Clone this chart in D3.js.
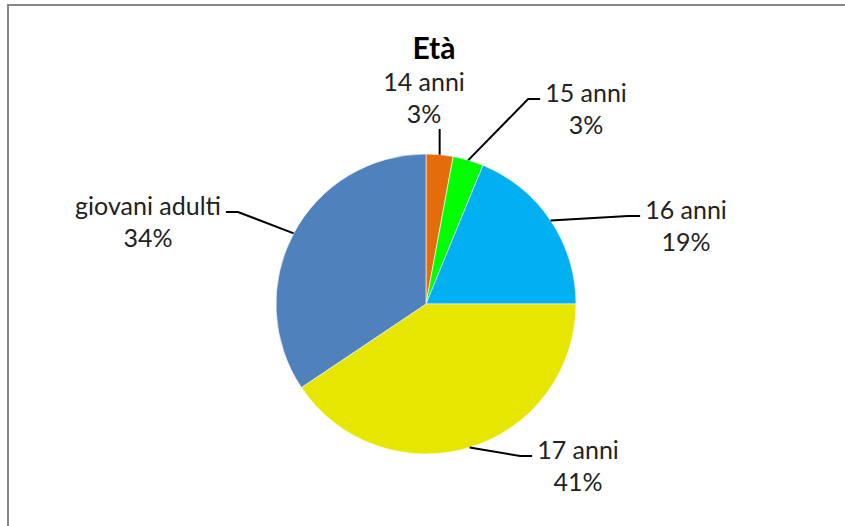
<!DOCTYPE html>
<html>
<head>
<meta charset="utf-8">
<script src="https://cdn.jsdelivr.net/npm/d3@7"></script>
<style>
  body { margin: 0; background: #fff; }
  svg { display: block; }
  text { font-family: Lato, "Open Sans", sans-serif; fill: #222; }
</style>
</head>
<body>
<div id="chart"></div>
<script>
// chart data
const categories = ["14 anni", "15 anni", "16 anni", "17 anni", "giovani adulti"];
const values = [2.9, 3.3, 18.8, 40.6, 34.4];
const colors = ["#E46C0A", "#00FF00", "#00B0F0", "#E6E600", "#4F81BD"];
const title = "Età";

// label placement, relative to pie centre (Excel-style dragged labels)
const labelOffsets = [[-2, -206], [160, -195], [260, -78], [152, 162], [-278, -82]];

const width = 845, height = 526;
const cx = 426, cy = 304, radius = 150;
const lineHeight = 32;

const svg = d3.select("#chart").append("svg")
    .attr("width", width)
    .attr("height", height);

// chart border (cropped on the right and bottom)
svg.append("rect")
    .attr("x", 8).attr("y", 5)
    .attr("width", width + 20).attr("height", height + 20)
    .attr("fill", "none")
    .attr("stroke", "#878787")
    .attr("stroke-width", 2);

svg.append("text")
    .attr("x", 434).attr("y", 59)
    .attr("text-anchor", "middle")
    .style("font-size", "30px")
    .style("font-weight", "bold")
    .style("fill", "#000")
    .text(title);

const total = d3.sum(values);
const pie = d3.pie().sort(null).value(d => d);
const arcs = pie(values);
const arc = d3.arc().innerRadius(0).outerRadius(radius);

const g = svg.append("g").attr("transform", `translate(${cx},${cy})`);

g.selectAll("path.slice")
    .data(arcs)
    .join("path")
    .attr("class", "slice")
    .attr("d", arc)
    .attr("fill", (d, i) => colors[i])
    .attr("stroke", "#fff")
    .attr("stroke-width", 0.6);

// labels
const labels = g.selectAll("g.lbl")
    .data(arcs)
    .join("g")
    .attr("class", "lbl");

labels.append("text")
    .attr("x", (d, i) => labelOffsets[i][0])
    .attr("y", (d, i) => labelOffsets[i][1] - 7)
    .attr("text-anchor", "middle")
    .style("font-size", "25px")
    .text((d, i) => categories[i]);

labels.append("text")
    .attr("x", (d, i) => labelOffsets[i][0])
    .attr("y", (d, i) => labelOffsets[i][1] - 7 + lineHeight)
    .attr("text-anchor", "middle")
    .style("font-size", "25px")
    .text(d => Math.round(d.value / total * 100) + "%");

// leader lines from slice edge to label
labels.each(function (d, i) {
    let sel = d3.select(this);
    let texts = sel.selectAll("text").nodes();
    let w = d3.max(texts, t => t.getComputedTextLength());
    let mid = (d.startAngle + d.endAngle) / 2;
    let ax = radius * Math.sin(mid), ay = -radius * Math.cos(mid);
    let [lx, ly] = labelOffsets[i];
    let pts;
    if (Math.abs(ax - lx) < w / 2) {
        // label straight above/below the slice
        let edgeY = ly - 7 + lineHeight + 6;
        pts = [[ax, ay], [ax, edgeY]];
    } else {
        let side = lx > ax ? -1 : 1;
        let ex = lx + side * (w / 2 + 5);
        let ey = ly - 10;
        pts = [[ax, ay], [ex + side * 12, ey], [ex, ey]];
    }
    sel.append("path")
        .attr("d", d3.line()(pts))
        .attr("fill", "none")
        .attr("stroke", "#000")
        .attr("stroke-width", 2);
});
</script>
</body>
</html>
